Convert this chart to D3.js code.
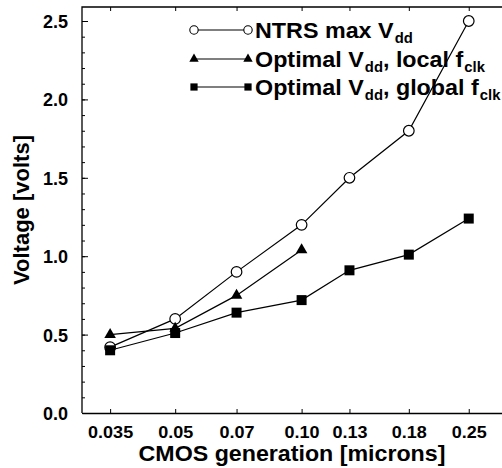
<!DOCTYPE html>
<html>
<head>
<meta charset="utf-8">
<script src="https://cdn.jsdelivr.net/npm/d3@7"></script>
<style>
  html, body { margin: 0; padding: 0; background: #fff; }
  svg { display: block; }
  text { font-family: "Liberation Sans", Arial, Helvetica, sans-serif; font-weight: bold; fill: #000; }
</style>
</head>
<body>
<svg id="chart" width="502" height="468"></svg>
<script>
// CMOS generations (feature size in microns) and their tick labels
const generations = [0.035, 0.05, 0.07, 0.10, 0.13, 0.18, 0.25];
const generationLabels = ["0.035", "0.05", "0.07", "0.10", "0.13", "0.18", "0.25"];

// Supply voltages in volts
const ntrsMaxVdd = [0.42, 0.60, 0.90, 1.20, 1.50, 1.80, 2.50];
const localGenerations = [0.035, 0.05, 0.07, 0.10];
const optimalVddLocal = [0.50, 0.54, 0.75, 1.04];
const optimalVddGlobal = [0.40, 0.51, 0.64, 0.72, 0.91, 1.01, 1.24];

const voltageTicks = [0.0, 0.5, 1.0, 1.5, 2.0, 2.5];
const voltageTickLabels = ["0.0", "0.5", "1.0", "1.5", "2.0", "2.5"];
const voltageMinorTicks = d3.range(0, 26).map(i => i / 10);

const svg = d3.select("#chart");
const plotLeft = 82, plotRight = 502, plotTop = 7, plotBottom = 413;

const x = d3.scaleLog().domain([0.03, 0.3]).range([plotLeft, plotRight]);
const y = d3.scaleLinear().domain([0, 2.5]).range([plotBottom, 21]);

// frame
svg.append("path")
  .attr("d", `M${plotLeft},${plotBottom}V${plotTop}H${plotRight}`)
  .attr("fill", "none").attr("stroke", "#000").attr("stroke-width", 1.3);

// bottom axis with inward ticks
const xStretch = 1.06;
const xAxis = svg.append("g")
  .attr("transform", `translate(0,${plotBottom})`)
  .call(d3.axisBottom(x).tickValues(generations)
    .tickFormat((d, i) => generationLabels[i])
    .tickSizeInner(-4).tickSizeOuter(0));
xAxis.select(".domain").attr("stroke-width", 1.3);
xAxis.selectAll("text")
  .attr("y", 25).attr("dy", null)
  .style("font-size", "17px")
  .attr("transform", `scale(${xStretch},1)`);

// top axis ticks (no labels)
const xTop = svg.append("g")
  .attr("transform", `translate(0,${plotTop})`)
  .call(d3.axisTop(x).tickValues(generations).tickFormat("")
    .tickSizeInner(-4).tickSizeOuter(0));
xTop.select(".domain").remove();

// left axis: major and minor inward ticks
const yMinor = svg.append("g")
  .attr("transform", `translate(${plotLeft},0)`)
  .call(d3.axisLeft(y).tickValues(voltageMinorTicks).tickFormat("")
    .tickSizeInner(-3).tickSizeOuter(0));
yMinor.select(".domain").remove();

const yAxis = svg.append("g")
  .attr("transform", `translate(${plotLeft},0)`)
  .call(d3.axisLeft(y).tickValues(voltageTicks)
    .tickFormat((d, i) => voltageTickLabels[i])
    .tickSizeInner(-6).tickSizeOuter(0));
yAxis.select(".domain").remove();
yAxis.selectAll("text")
  .attr("x", -14)
  .attr("dy", "0.36em")
  .style("font-size", "18px");

// axis titles
svg.append("text")
  .attr("transform", `translate(${(plotLeft + plotRight) / 2},461) scale(1.08,1)`)
  .attr("text-anchor", "middle")
  .style("font-size", "21.5px")
  .text("CMOS generation [microns]");

svg.append("text")
  .attr("transform", `translate(29,${(plotTop + plotBottom) / 2}) rotate(-90)`)
  .attr("text-anchor", "middle")
  .style("font-size", "22px")
  .text("Voltage [volts]");

// series lines
const line = d3.line();
const seriesPath = (xs, ys) => line(xs.map((g, i) => [x(g), y(ys[i])]));

svg.append("path").attr("d", seriesPath(generations, ntrsMaxVdd))
  .attr("fill", "none").attr("stroke", "#000").attr("stroke-width", 1.2);
svg.append("path").attr("d", seriesPath(localGenerations, optimalVddLocal))
  .attr("fill", "none").attr("stroke", "#000").attr("stroke-width", 1.2);
svg.append("path").attr("d", seriesPath(generations, optimalVddGlobal))
  .attr("fill", "none").attr("stroke", "#000").attr("stroke-width", 1.2);

// markers
svg.append("g").selectAll("circle").data(generations).join("circle")
  .attr("cx", d => x(d)).attr("cy", (d, i) => y(ntrsMaxVdd[i]))
  .attr("r", 5.3).attr("fill", "#fff").attr("stroke", "#000").attr("stroke-width", 1.2);

const tri = d3.symbol().type(d3.symbolTriangle).size(58);
svg.append("g").selectAll("path").data(localGenerations).join("path")
  .attr("d", tri)
  .attr("transform", (d, i) => `translate(${x(d)},${y(optimalVddLocal[i])})`)
  .attr("fill", "#000");

const sq = d3.symbol().type(d3.symbolSquare).size(100);
svg.append("g").selectAll("path").data(generations).join("path")
  .attr("d", sq)
  .attr("transform", (d, i) => `translate(${x(d)},${y(optimalVddGlobal[i])})`)
  .attr("fill", "#000");

// legend
const legendRows = [
  { kind: "circle", parts: [["NTRS max V", false], ["dd", true]] },
  { kind: "triangle", parts: [["Optimal V", false], ["dd", true], [", local f", false], ["clk", true]] },
  { kind: "square", parts: [["Optimal V", false], ["dd", true], [", global f", false], ["clk", true]] }
];
const legendY = [30, 59, 87];
const lx1 = 194, lx2 = 248, ltx = 255;

legendRows.forEach((row, r) => {
  const ly = legendY[r];
  const g = svg.append("g");
  g.append("line").attr("x1", lx1).attr("x2", lx2).attr("y1", ly).attr("y2", ly)
    .attr("stroke", "#000").attr("stroke-width", 1.2);
  [lx1, lx2].forEach(mx => {
    if (row.kind === "circle") {
      g.append("circle").attr("cx", mx).attr("cy", ly).attr("r", 4.2)
        .attr("fill", "#fff").attr("stroke", "#000").attr("stroke-width", 1.1);
    } else if (row.kind === "triangle") {
      g.append("path").attr("d", d3.symbol().type(d3.symbolTriangle).size(38))
        .attr("transform", `translate(${mx},${ly})`).attr("fill", "#000");
    } else {
      g.append("path").attr("d", d3.symbol().type(d3.symbolSquare).size(52))
        .attr("transform", `translate(${mx},${ly})`).attr("fill", "#000");
    }
  });
  const t = g.append("text")
    .attr("transform", `translate(${ltx},${ly + 8}) scale(1.06,1)`)
    .style("font-size", "22px");
  row.parts.forEach(([s, sub], k) => {
    const ts = t.append("tspan").text(s);
    if (sub) ts.style("font-size", "14px").attr("dy", 5).attr("dx", 1);
    else if (k > 0) ts.attr("dy", -5);
  });
});
</script>
</body>
</html>
